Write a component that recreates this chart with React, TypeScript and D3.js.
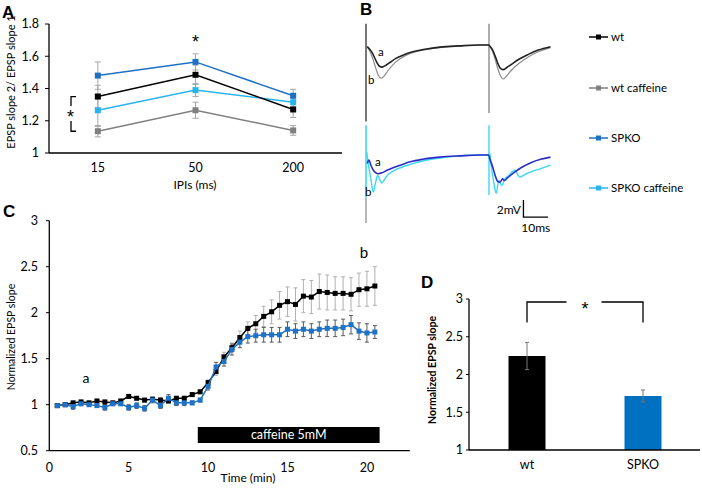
import React from 'react'
import * as d3 from 'd3'

const W = 702
const H = 488
const font = 'Lato, "Noto Sans", sans-serif'
const boldFont = '"Liberation Sans", Arial, sans-serif'

const black = '#000000'
const gray = '#808080'
const blue = '#1f70c1'
const lightBlue = '#2ab4ee'
const traceBlue = '#2c2cc8'
const traceCyan = '#3ad8f2'

// ---- panel A: paired pulse ratio
const ipiLabels = ['15', '50', '200']
const wtPPR = [1.35, 1.485, 1.27]
const wtPPRErr = [0.07, 0.06, 0.05]
const wtCafPPR = [1.135, 1.265, 1.14]
const wtCafPPRErr = [0.035, 0.05, 0.03]
const spkoPPR = [1.48, 1.565, 1.355]
const spkoPPRErr = [0.085, 0.05, 0.04]
const spkoCafPPR = [1.265, 1.39, 1.315]
const spkoCafPPRErr = [0.1, 0.04, 0.03]
const pprTicks = [1, 1.2, 1.4, 1.6, 1.8]

// ---- panel B: example traces [ms, mV]
const wtTrace = [
  [0.5, -0.2], [1.5, -0.5], [2.5, -0.9], [3.5, -1.5], [4.5, -2.1], [5.5, -2.5], [6.5, -2.6], [8, -2.4],
  [10, -2.0], [12, -1.6], [15, -1.2], [19, -0.8], [24, -0.5], [30, -0.25], [38, -0.1], [46, 0], [49.8, 0],
  [50.5, -0.2], [51.5, -0.6], [52.5, -1.3], [53.5, -2.1], [54.5, -2.7], [55.8, -2.9], [57, -2.7], [59, -2.3],
  [62, -1.7], [66, -1.1], [70, -0.6], [75, -0.2],
]
const wtCafTrace = [
  [0.5, -0.2], [1.5, -0.7], [2.5, -1.4], [3.5, -2.3], [4.5, -3.2], [5.5, -3.8], [6.3, -3.9], [7.5, -3.6],
  [9, -3.0], [11, -2.3], [14, -1.6], [18, -1.0], [23, -0.6], [30, -0.3], [38, -0.1], [46, 0], [49.8, 0],
  [50.5, -0.2], [51.5, -0.8], [52.5, -1.7], [53.5, -2.7], [54.5, -3.5], [55.8, -4.0], [57, -3.7], [59, -3.0],
  [62, -2.2], [66, -1.4], [70, -0.8], [75, -0.3],
]
const spkoTrace = [
  [0.5, -1.0], [1.2, -0.6], [2, -1.2], [3, -1.8], [4, -2.1], [5, -2.2], [6.5, -2.1], [8.5, -1.8], [11, -1.5],
  [14, -1.2], [18, -0.8], [23, -0.5], [30, -0.25], [38, -0.1], [46, 0], [49.8, 0],
  [50.5, -0.6], [51.5, -1.4], [52.5, -2.4], [53.5, -3.1], [54.5, -3.2], [55.5, -2.8], [56.3, -3.0],
  [57.5, -2.7], [60, -2.1], [63, -1.5], [67, -0.9], [71, -0.5], [75, -0.25],
]
const spkoCafTrace = [
  [0.3, 0.4], [1, -1.2], [2, -2.8], [2.9, -4.35], [3.7, -3.5], [4.7, -2.4], [5.6, -2.9], [6.5, -3.3],
  [7.5, -2.9], [9, -2.3], [11, -1.9], [14, -1.5], [18, -1.1], [23, -0.7], [30, -0.35], [38, -0.1], [46, 0],
  [49.8, 0], [50.3, 0.2], [51, -1.5], [52, -3.3], [52.9, -4.5], [54, -3.0], [55.2, -3.6], [56.3, -2.9],
  [58, -2.4], [60.5, -1.8], [62.5, -2.6], [64.5, -2.3], [67, -2.0], [71, -1.6], [75, -1.2],
]
const stimTimes = [0, 50]
const legendNames = ['wt', 'wt caffeine', 'SPKO', 'SPKO caffeine']
const legendColors = [black, gray, blue, lightBlue]

// ---- panel C: time course
const timeMin = [
  0.5, 1, 1.5, 2, 2.5, 3, 3.5, 4, 4.5, 5, 5.5, 6, 6.5, 7, 7.5, 8, 8.5, 9, 9.5, 10,
  10.5, 11, 11.5, 12, 12.5, 13, 13.5, 14, 14.5, 15, 15.5, 16, 16.5, 17, 17.5, 18, 18.5, 19, 19.5, 20, 20.5,
]
const wtSlope = [
  0.99, 1.0, 1.02, 1.03, 1.02, 1.04, 1.03, 1.02, 1.04, 1.09, 1.07, 1.05, 1.06, 1.05, 1.04, 1.07, 1.07, 1.11, 1.14, 1.24,
  1.36, 1.52, 1.62, 1.73, 1.83, 1.88, 1.96, 2.01, 2.08, 2.12, 2.09, 2.18, 2.17, 2.23, 2.22, 2.21, 2.21, 2.2, 2.25, 2.26, 2.29,
]
const wtSlopeErr = [
  0.02, 0.02, 0.02, 0.02, 0.02, 0.02, 0.02, 0.02, 0.02, 0.02, 0.02, 0.02, 0.02, 0.03, 0.02, 0.02, 0.02, 0.02, 0.02, 0.03,
  0.04, 0.05, 0.05, 0.07, 0.07, 0.09, 0.11, 0.13, 0.15, 0.16, 0.18, 0.18, 0.18, 0.19, 0.19, 0.18, 0.18, 0.18, 0.18, 0.19, 0.21,
]
const spkoSlope = [
  0.99, 1.0, 0.98, 1.01, 1.0, 0.99, 0.97, 1.01, 1.01, 0.97, 0.99, 0.96, 1.05, 0.99, 1.07, 1.02, 1.02, 1.02, 1.05, 1.2,
  1.41, 1.47, 1.6, 1.68, 1.74, 1.75, 1.76, 1.76, 1.76, 1.82, 1.8, 1.82, 1.8, 1.82, 1.83, 1.83, 1.84, 1.87, 1.8, 1.78, 1.79,
]
const spkoSlopeErr = [
  0.02, 0.02, 0.03, 0.02, 0.02, 0.02, 0.03, 0.02, 0.02, 0.03, 0.03, 0.03, 0.03, 0.03, 0.04, 0.03, 0.03, 0.02, 0.02, 0.04,
  0.05, 0.05, 0.06, 0.06, 0.07, 0.07, 0.08, 0.08, 0.08, 0.08, 0.08, 0.08, 0.08, 0.08, 0.09, 0.09, 0.09, 0.1, 0.09, 0.1, 0.07,
]
const timeTicks = [0, 5, 10, 15, 20]
const slopeTicks = [0.5, 1, 1.5, 2, 2.5, 3]
const caffeineWindow = [9.35, 20.8]

// ---- panel D: summary
const groups = ['wt', 'SPKO']
const groupMeans = [2.245, 1.715]
const groupErr = [0.18, 0.08]
const groupColors = ['#000000', '#0070c0']
const summaryTicks = [1, 1.5, 2, 2.5, 3]

const tickSize = 12.5

function Square({ x, y, s, fill }: { x: number; y: number; s: number; fill: string }) {
  return <rect x={x - s / 2} y={y - s / 2} width={s} height={s} fill={fill} />
}

function ErrBar({ x, y1, y2, w, stroke }: { x: number; y1: number; y2: number; w: number; stroke: string }) {
  return (
    <g stroke={stroke} strokeWidth={1}>
      <line x1={x} x2={x} y1={y1} y2={y2} />
      <line x1={x - w / 2} x2={x + w / 2} y1={y1} y2={y1} />
      <line x1={x - w / 2} x2={x + w / 2} y1={y2} y2={y2} />
    </g>
  )
}

function Star({ x, y }: { x: number; y: number }) {
  // y is the visual centre of the asterisk
  return (
    <text x={x} y={y + 10} textAnchor="middle" fontSize={18} fontFamily={boldFont}>
      *
    </text>
  )
}

function PanelA() {
  const x = d3.scalePoint().domain(ipiLabels).range([49, 342]).padding(0.5)
  const y = d3.scaleLinear().domain([1, 1.8]).range([153, 24])
  const line = d3.line<number>().x((_, i) => x(ipiLabels[i])!).y((d) => y(d))
  const series = [
    { v: wtCafPPR, e: wtCafPPRErr, c: gray },
    { v: spkoCafPPR, e: spkoCafPPRErr, c: lightBlue },
    { v: wtPPR, e: wtPPRErr, c: black },
    { v: spkoPPR, e: spkoPPRErr, c: blue },
  ]
  return (
    <g>
      {series.map((s, k) =>
        s.v.map((v, i) => (
          <ErrBar key={k + '-' + i} x={x(ipiLabels[i])!} y1={y(v + s.e[i])} y2={y(v - s.e[i])} w={6} stroke="#a6a6a6" />
        ))
      )}
      {series.map((s, k) => (
        <g key={k}>
          <path d={line(s.v)!} fill="none" stroke={s.c} strokeWidth={1.5} />
          {s.v.map((v, i) => (
            <Square key={i} x={x(ipiLabels[i])!} y={y(v)} s={6} fill={s.c} />
          ))}
        </g>
      ))}
      <line x1={49} x2={49} y1={24} y2={153} stroke="#000" strokeWidth={1.3} />
      <line x1={49} x2={342} y1={153} y2={153} stroke="#000" strokeWidth={1.3} />
      {pprTicks.map((t) => (
        <g key={t}>
          <line x1={45} x2={49} y1={y(t)} y2={y(t)} stroke="#000" />
          <text x={39} y={y(t)} dy="0.35em" textAnchor="end" fontSize={tickSize} fontFamily={font}>
            {t === 1 ? '1' : t.toFixed(1)}
          </text>
        </g>
      ))}
      {ipiLabels.map((l) => (
        <text key={l} x={x(l)!} y={168} dy="0.35em" textAnchor="middle" fontSize={tickSize} fontFamily={font}>
          {l}
        </text>
      ))}
      <text x={195} y={185} dy="0.35em" textAnchor="middle" fontSize={12} fontFamily={font}>
        IPIs (ms)
      </text>
      <text transform="translate(15,82) rotate(-90)" textAnchor="middle" fontSize={11} fontFamily={font}>
        EPSP slope 2/ EPSP slope 1
      </text>
      <Star x={x('50')!} y={38} />
      <g stroke="#000" strokeWidth={1.3} fill="none">
        <path d={`M76,${y(1.35)} H71 V106 M71,121 V${y(1.135)} H76`} />
      </g>
      <Star x={70.5} y={113} />
      <text x={2} y={18} fontSize={17} fontWeight="bold" fontFamily={boldFont}>
        A
      </text>
    </g>
  )
}

function PanelB() {
  const x = d3.scaleLinear().domain([0, 75]).range([366, 550.5])
  const yTop = d3.scaleLinear().domain([0, -5]).range([45, 87.5])
  const yBot = d3.scaleLinear().domain([0, -5]).range([155, 197.5])
  const lineTop = d3.line<number[]>().x((d) => x(d[0])).y((d) => yTop(d[1])).curve(d3.curveMonotoneX)
  const lineBot = d3.line<number[]>().x((d) => x(d[0])).y((d) => yBot(d[1])).curve(d3.curveMonotoneX)
  const legendY = [37, 88, 138, 188]
  return (
    <g>
      <line x1={x(stimTimes[0])} x2={x(stimTimes[0])} y1={yTop(2.5)} y2={yTop(-9)} stroke="#555" strokeWidth={1.6} />
      <line x1={x(stimTimes[1])} x2={x(stimTimes[1])} y1={yTop(2.5)} y2={yTop(-8)} stroke="#8a8a8a" strokeWidth={1.4} />
      <line x1={x(stimTimes[0])} x2={x(stimTimes[0])} y1={yBot(-5)} y2={yBot(-8)} stroke="#999" strokeWidth={1.4} />
      <line x1={x(stimTimes[0])} x2={x(stimTimes[0])} y1={yBot(3.5)} y2={yBot(-5)} stroke={traceCyan} strokeWidth={1.6} />
      <line x1={x(stimTimes[1])} x2={x(stimTimes[1])} y1={yBot(3.5)} y2={yBot(-4.7)} stroke={traceCyan} strokeWidth={1.4} />
      <path d={lineTop(wtCafTrace)!} fill="none" stroke="#8c8c8c" strokeWidth={1.2} />
      <path d={lineTop(wtTrace)!} fill="none" stroke="#222" strokeWidth={1.6} />
      <path d={lineBot(spkoCafTrace)!} fill="none" stroke={traceCyan} strokeWidth={1.4} />
      <path d={lineBot(spkoTrace)!} fill="none" stroke={traceBlue} strokeWidth={1.6} />
      <text x={378} y={56} fontSize={11.5} fontFamily={font}>a</text>
      <text x={368} y={84} fontSize={11.5} fontFamily={font}>b</text>
      <text x={375} y={166} fontSize={11.5} fontFamily={font}>a</text>
      <text x={365} y={196} fontSize={11.5} fontFamily={font}>b</text>
      <g stroke="#000" strokeWidth={1.3} fill="none">
        <path d={`M${x(64)},${yBot(-5.3)} V${yBot(-7.3)} H${x(74)}`} />
      </g>
      <text x={521} y={210} dy="0.35em" textAnchor="end" fontSize={12} fontFamily={font}>2mV</text>
      <text x={x(69)} y={228} dy="0.35em" textAnchor="middle" fontSize={12} fontFamily={font}>10ms</text>
      {legendNames.map((n, i) => (
        <g key={n}>
          <line x1={589} x2={608} y1={legendY[i]} y2={legendY[i]} stroke={legendColors[i]} strokeWidth={1.5} />
          <Square x={598.5} y={legendY[i]} s={5} fill={legendColors[i]} />
          <text x={611} y={legendY[i]} dy="0.35em" fontSize={11.5} fontFamily={font}>{n}</text>
        </g>
      ))}
      <text x={360} y={15} fontSize={17} fontWeight="bold" fontFamily={boldFont}>B</text>
    </g>
  )
}

function PanelC() {
  const x = d3.scaleLinear().domain([0, 22.7]).range([49.3, 409.8])
  const y = d3.scaleLinear().domain([0.5, 3]).range([450.7, 220.7])
  const line = d3.line<number>().x((_, i) => x(timeMin[i])).y((d) => y(d))
  const series = [
    { v: wtSlope, e: wtSlopeErr, c: black, ec: '#b0b0b0' },
    { v: spkoSlope, e: spkoSlopeErr, c: '#1f72c4', ec: '#5a5a5a' },
  ]
  return (
    <g>
      {series.map((s, k) =>
        s.v.map((v, i) => (
          <ErrBar key={k + '-' + i} x={x(timeMin[i])} y1={y(v + s.e[i])} y2={y(v - s.e[i])} w={4} stroke={s.ec} />
        ))
      )}
      {series.map((s, k) => (
        <g key={k}>
          <path d={line(s.v)!} fill="none" stroke={s.c} strokeWidth={1.5} />
          {s.v.map((v, i) => (
            <Square key={i} x={x(timeMin[i])} y={y(v)} s={5} fill={s.c} />
          ))}
        </g>
      ))}
      <rect x={x(caffeineWindow[0])} y={427} width={x(caffeineWindow[1]) - x(caffeineWindow[0])} height={16} fill="#000" />
      <text x={(x(caffeineWindow[0]) + x(caffeineWindow[1])) / 2} y={435} dy="0.35em" textAnchor="middle" fill="#fff" fontSize={tickSize} fontFamily={font}>
        caffeine 5mM
      </text>
      <line x1={49.3} x2={49.3} y1={220.7} y2={450.7} stroke="#000" strokeWidth={1.3} />
      <line x1={49.3} x2={409.8} y1={450.7} y2={450.7} stroke="#000" strokeWidth={1.3} />
      {slopeTicks.map((t) => (
        <g key={t}>
          <line x1={46} x2={49.3} y1={y(t)} y2={y(t)} stroke="#000" />
          <text x={38} y={y(t)} dy="0.35em" textAnchor="end" fontSize={tickSize} fontFamily={font}>{t}</text>
        </g>
      ))}
      {timeTicks.map((t) => (
        <text key={t} x={x(t)} y={468} dy="0.35em" textAnchor="middle" fontSize={tickSize} fontFamily={font}>{t}</text>
      ))}
      <text x={248} y={478} dy="0.35em" textAnchor="middle" fontSize={12} fontFamily={font}>Time (min)</text>
      <text transform="translate(15,337) rotate(-90)" textAnchor="middle" fontSize={10.5} fontFamily={font}>
        Normalized EPSP slope
      </text>
      <text x={86} y={378} dy="0.35em" textAnchor="middle" fontSize={14} fontFamily={font}>a</text>
      <text x={364} y={253} dy="0.35em" textAnchor="middle" fontSize={15} fontFamily={font}>b</text>
      <text x={3} y={217} fontSize={17} fontWeight="bold" fontFamily={boldFont}>C</text>
    </g>
  )
}

function PanelD() {
  const x = d3.scalePoint().domain(groups).range([469, 701]).padding(0.5)
  const y = d3.scaleLinear().domain([1, 3]).range([450, 299])
  const bw = 37
  const xw = x('wt')!
  const xs = x('SPKO')!
  const yb = y(2.96)
  const yl = y(2.69)
  return (
    <g>
      {groups.map((g, i) => (
        <g key={g}>
          <rect x={x(g)! - bw / 2} y={y(groupMeans[i])} width={bw} height={y(1) - y(groupMeans[i])} fill={groupColors[i]} />
          <ErrBar x={x(g)!} y1={y(groupMeans[i] + groupErr[i])} y2={y(groupMeans[i] - groupErr[i])} w={4} stroke="#777" />
          <text x={x(g)!} y={465} dy="0.35em" textAnchor="middle" fontSize={tickSize} fontFamily={font}>{g}</text>
        </g>
      ))}
      <line x1={469} x2={469} y1={299} y2={450} stroke="#000" strokeWidth={1.3} />
      <line x1={469} x2={700} y1={450} y2={450} stroke="#000" strokeWidth={1.3} />
      {summaryTicks.map((t) => (
        <g key={t}>
          <line x1={466} x2={469} y1={y(t)} y2={y(t)} stroke="#000" />
          <text x={463} y={y(t)} dy="0.35em" textAnchor="end" fontSize={tickSize} fontFamily={font}>{t}</text>
        </g>
      ))}
      <g stroke="#000" strokeWidth={1.3} fill="none">
        <path d={`M${xw},${yl} V${yb} H566.5 M601.5,${yb} H${xs} V${yl}`} />
      </g>
      <Star x={(xw + xs) / 2} y={305} />
      <text transform="translate(436,370) rotate(-90)" textAnchor="middle" fontSize={10.5} fontWeight="bold" fontFamily={font}>
        Normalized EPSP slope
      </text>
      <text x={421} y={288} fontSize={17} fontWeight="bold" fontFamily={boldFont}>D</text>
    </g>
  )
}

export default function App() {
  return (
    <svg width={W} height={H} style={{ position: 'absolute', left: 0, top: 0, background: '#fff' }}>
      <PanelA />
      <PanelB />
      <PanelC />
      <PanelD />
    </svg>
  )
}
